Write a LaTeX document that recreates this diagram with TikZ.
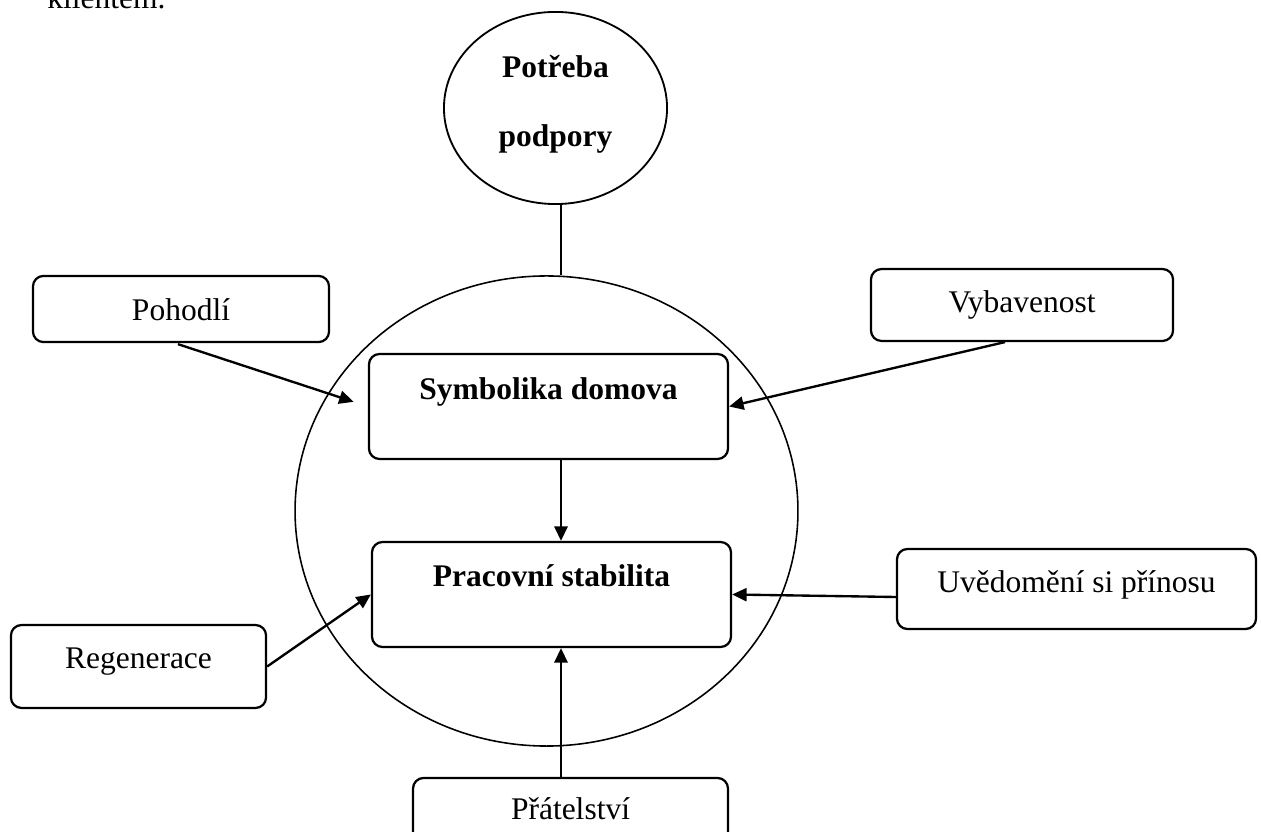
\documentclass[tikz,border=0pt]{standalone}
\usepackage{fontspec}
\setmainfont{Liberation Serif}
\usetikzlibrary{shapes.geometric, arrows.meta, calc}

\begin{document}
\begin{tikzpicture}[x=0.381pt, y=-0.381pt,
  every node/.append style={font=\fontsize{12}{14}\selectfont},
  box/.style={rectangle, draw=black, rounded corners=4pt, line width=0.85pt, inner sep=0pt},
  boldbox/.style={box, font=\fontsize{12}{14}\selectfont\bfseries},
  arr/.style={-{Triangle[length=5.5pt, width=5pt]}, line width=0.9pt, draw=black}]

\useasboundingbox (0, 0) rectangle (1261, 832);
\clip (0, 0) rectangle (1261, 832);

\node [anchor=base west] (klient) at (38, 9) {klientem.};

\node [ellipse, draw=black, line width=0.6pt, minimum width=191.6pt, minimum height=179.1pt] (ring) at (546.5, 511) {};
\node [ellipse, draw=black, line width=0.7pt, minimum width=85pt, minimum height=73.2pt, align=center, font=\fontsize{12}{26.3}\selectfont\bfseries, text height=33.9pt, text depth=4.2pt] (need) at (555.5, 108) {Potřeba\\podpory};
\coordinate (axis) at (561, 0);

\node [box, minimum width=112.8pt, text height=16.8pt, text depth=8.4pt] (comfort) at (181, 309) {Pohodlí};
\node [box, minimum width=115.1pt, text height=16.4pt, text depth=11pt] (equip) at (1022, 305) {Vybavenost};
\node [boldbox, minimum width=136.8pt, text height=17.5pt, text depth=22.5pt] (home) at (548.5, 406.5) {Symbolika domova};
\node [boldbox, minimum width=136.8pt, text height=17.1pt, text depth=22.9pt] (work) at (551.5, 594.5) {Pracovní stabilita};
\node [box, minimum width=136.8pt, text height=16.4pt, text depth=14.1pt] (benefit) at (1076.5, 589) {Uvědomění si přínosu};
\node [box, minimum width=97.2pt, text height=16.4pt, text depth=15.2pt] (regen) at (138.5, 666.5) {Regenerace};
\node [box, minimum width=120pt, text height=16pt, text depth=14.5pt] (friend) at (570.5, 818) {Přátelství};


\draw [line width=0.85pt, draw=black] (axis |- need.south) to (axis |- ring.north);
\draw [arr, shorten >=5.7pt] ($(comfort.south)+(-3, 1)$) to (home.west);
\draw [arr] ($(equip.south)+(-17, 0)$) to (home.east);
\draw [arr] (axis |- home.south) to (axis |- work.north);
\draw [arr] ($(benefit.west)+(0, 8)$) to (work.east);
\draw [arr] (regen.east) to (work.west);
\draw [arr] (axis |- friend.north) to (axis |- work.south);

\end{tikzpicture}
\end{document}
